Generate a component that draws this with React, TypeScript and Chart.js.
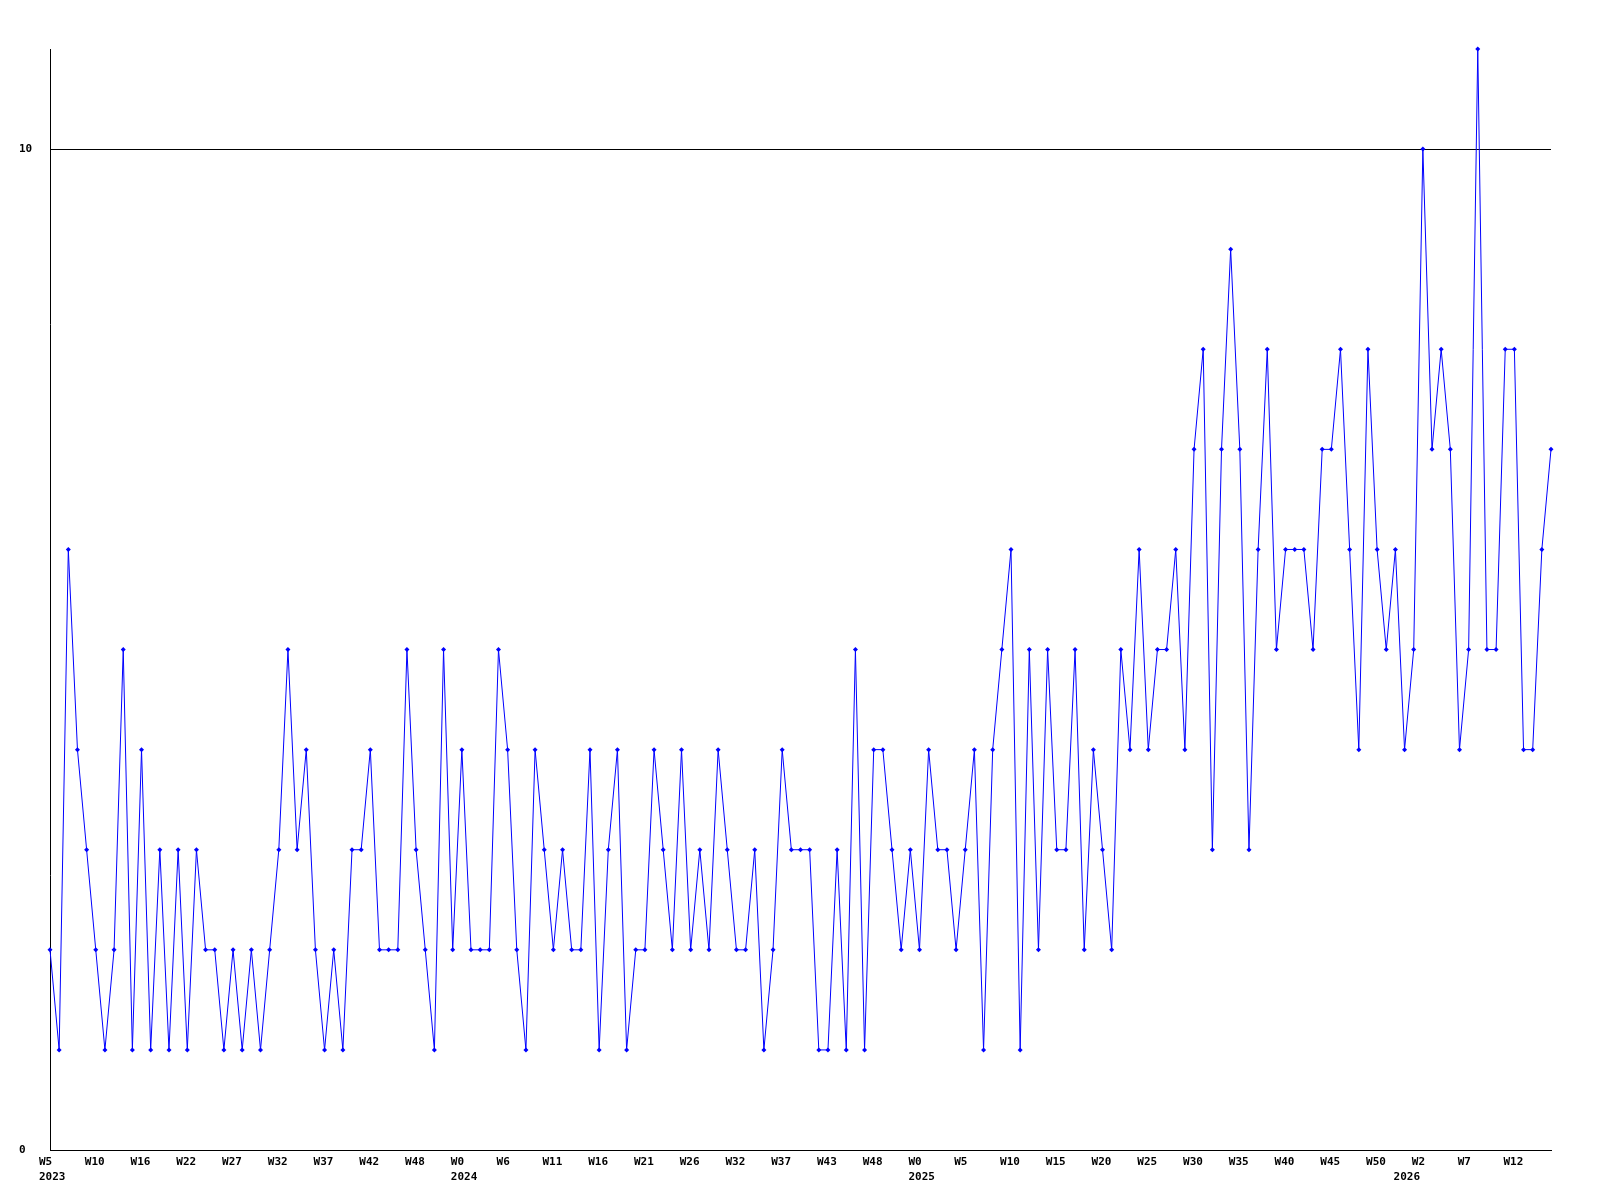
import React, { useEffect, useRef } from "react";
import { Chart, registerables } from "chart.js";

Chart.register(...registerables);

// Weekly values, one per point, left to right
const values: number[] = [
  2, 1, 6, 4, 3, 2, 1, 2, 5, 1, 4, 1, 3, 1, 3, 1, 3, 2, 2, 1,
  2, 1, 2, 1, 2, 3, 5, 3, 4, 2, 1, 2, 1, 3, 3, 4, 2, 2, 2, 5,
  3, 2, 1, 5, 2, 4, 2, 2, 2, 5, 4, 2, 1, 4, 3, 2, 3, 2, 2, 4,
  1, 3, 4, 1, 2, 2, 4, 3, 2, 4, 2, 3, 2, 4, 3, 2, 2, 3, 1, 2,
  4, 3, 3, 3, 1, 1, 3, 1, 5, 1, 4, 4, 3, 2, 3, 2, 4, 3, 3, 2,
  3, 4, 1, 4, 5, 6, 1, 5, 2, 5, 3, 3, 5, 2, 4, 3, 2, 5, 4, 6,
  4, 5, 5, 6, 4, 7, 8, 3, 7, 9, 7, 3, 6, 8, 5, 6, 6, 6, 5, 7,
  7, 8, 6, 4, 8, 6, 5, 6, 4, 5, 10, 7, 8, 7, 4, 5, 11, 5, 5, 8,
  8, 4, 4, 6, 7,
];

// Week tick labels, shown every TICK_STEP points
const weekTicks: string[] = [
  "W5", "W10", "W16", "W22", "W27", "W32", "W37", "W42", "W48",
  "W0", "W6", "W11", "W16", "W21", "W26", "W32", "W37", "W43", "W48",
  "W0", "W5", "W10", "W15", "W20", "W25", "W30", "W35", "W40", "W45", "W50",
  "W2", "W7", "W12",
];
const TICK_STEP = 5;

// Year labels: point index where each year starts, and year text
const yearPointIndex: number[] = [0, 45, 95, 148];
const yearTicks: string[] = ["2023", "2024", "2025", "2026"];

// Y axis labelled ticks and range
const yTicks: number[] = [0, 10];
const yMin = 0;
const yMax = 11;

const categories: string[] = values.map((_, i) => String(i));

const FONT = {
  family: "'DejaVu Sans Mono', 'Liberation Mono', monospace",
  size: 11,
  weight: "bold" as const,
  lineHeight: "15px",
};

export default function App() {
  const ref = useRef<HTMLCanvasElement | null>(null);

  useEffect(() => {
    if (!ref.current) return;
    const chart = new Chart(ref.current, {
      type: "line",
      data: {
        labels: categories,
        datasets: [
          {
            data: values,
            borderColor: "#0000ff",
            backgroundColor: "#0000ff",
            borderWidth: 1,
            pointStyle: "rectRot",
            pointRadius: 2.5,
            pointBorderWidth: 0,
            pointBackgroundColor: "#0000ff",
            tension: 0,
            fill: false,
            clip: false as any,
          },
        ],
      },
      options: {
        animation: false,
        responsive: false,
        maintainAspectRatio: false,
        devicePixelRatio: 1,
        layout: { padding: { left: 19, top: 49, right: 49, bottom: 0 } },
        plugins: {
          legend: { display: false },
          tooltip: { enabled: false },
        },
        scales: {
          x: {
            type: "category",
            offset: false,
            grid: { display: false, drawTicks: false },
            border: { display: true, color: "#000000", width: 1 },
            afterFit: (scale: any) => {
              scale.height = 50;
            },
            ticks: {
              autoSkip: false,
              maxRotation: 0,
              minRotation: 0,
              align: "start",
              labelOffset: -11,
              padding: 5,
              color: "#000000",
              font: FONT,
              callback: (_v: any, i: number) => {
                const w = i % TICK_STEP === 0 ? weekTicks[i / TICK_STEP] ?? "" : "";
                const y = yearPointIndex.indexOf(i);
                if (y >= 0) return [w, yearTicks[y]];
                return w;
              },
            },
          },
          y: {
            min: yMin,
            max: yMax,
            afterBuildTicks: (scale: any) => {
              scale.ticks = yTicks.map((v) => ({ value: v }));
            },
            afterFit: (scale: any) => {
              scale.width = 31;
            },
            grid: {
              display: true,
              drawTicks: false,
              color: "#000000",
              lineWidth: 1,
            },
            border: { display: true, color: "#000000", width: 1 },
            ticks: {
              crossAlign: "far",
              padding: 0,
              color: "#000000",
              font: FONT,
            },
          },
        },
      },
    });
    return () => chart.destroy();
  }, []);

  return (
    <div style={{ position: "absolute", left: 0, top: 0, width: 1600, height: 1200, background: "#fff" }}>
      <canvas ref={ref} width={1600} height={1200} style={{ width: 1600, height: 1200, display: "block" }} />
    </div>
  );
}
